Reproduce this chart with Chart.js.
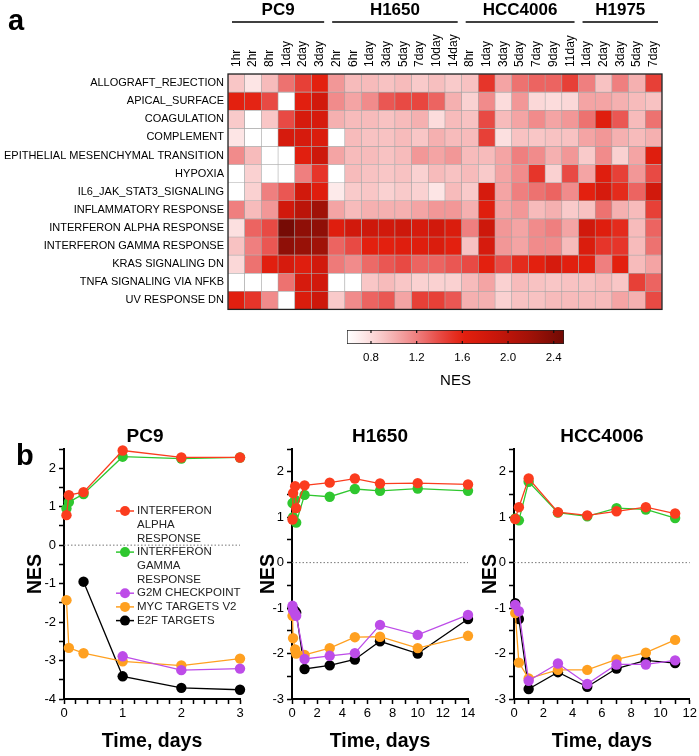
<!DOCTYPE html>
<html>
<head>
<meta charset="utf-8">
<script src="https://cdn.jsdelivr.net/npm/chart.js@4.4.1/dist/chart.umd.min.js"></script>
<style>
  body { margin: 0; background: #fff; width: 699px; height: 756px; position: relative; overflow: hidden;
         font-family: "Liberation Sans", Arial, sans-serif; }
  .box { position: absolute; }
  .tag { position: absolute; font-weight: bold; font-size: 29px; line-height: 1; color: #000; }
</style>
</head>
<body>
<div class="box" style="left:0;top:0;width:699px;height:320px"><canvas id="heat"></canvas></div>
<div class="box" style="left:300px;top:320px;width:320px;height:75px"><canvas id="scale"></canvas></div>
<div class="box" style="left:0;top:420px;width:250px;height:336px"><canvas id="pc9"></canvas></div>
<div class="box" style="left:232px;top:420px;width:250px;height:336px"><canvas id="h1650"></canvas></div>
<div class="box" style="left:466px;top:420px;width:233px;height:336px"><canvas id="hcc4006"></canvas></div>
<div class="tag" style="left:8px;top:6px">a</div>
<div class="tag" style="left:16px;top:441px">b</div>
<script>
// ---- panel a : heatmap ----
const rowLabels = ['ALLOGRAFT_REJECTION', 'APICAL_SURFACE', 'COAGULATION', 'COMPLEMENT',
  'EPITHELIAL MESENCHYMAL TRANSITION', 'HYPOXIA', 'IL6_JAK_STAT3_SIGNALING', 'INFLAMMATORY RESPONSE',
  'INTERFERON ALPHA RESPONSE', 'INTERFERON GAMMA RESPONSE', 'KRAS SIGNALING DN',
  'TNFA SIGNALING VIA NFKB', 'UV RESPONSE DN'];
const colLabels = ['1hr', '2hr', '8hr', '1day', '2day', '3day',
  '2hr', '6hr', '1day', '3day', '5day', '7day', '10day', '14day',
  '8hr', '1day', '3day', '5day', '7day', '9day', '11day',
  '1day', '2day', '3day', '5day', '7day'];
const groupNames = ['PC9', 'H1650', 'HCC4006', 'H1975'];
const groupSizes = [6, 8, 7, 5];

// NES per row, columns in colLabels order
const nes = [
  [0.90,0.75,0.95,1.25,1.45,1.60, 1.10,0.95,0.95,0.92,0.95,0.88,0.93,0.88, 0.92,1.50,1.05,1.25,1.30,1.30,1.45, 1.20,0.92,1.20,1.00,1.45],
  [1.60,1.58,1.40,0.60,1.62,1.80, 1.15,1.05,1.15,1.35,1.40,1.42,1.30,1.00, 0.85,1.15,0.80,1.10,0.82,0.80,0.82, 1.05,1.05,1.00,0.95,0.92],
  [0.88,0.60,0.90,1.40,1.75,1.75, 1.00,0.95,0.95,0.92,0.95,1.00,0.80,0.95, 0.92,1.40,0.95,1.05,1.15,1.05,1.10, 1.25,1.65,1.35,0.95,1.25],
  [0.75,0.60,0.60,1.75,1.75,1.70, 0.60,0.95,0.92,0.92,0.95,0.90,1.00,0.95, 0.95,1.45,0.78,0.92,0.90,0.92,0.92, 1.05,1.10,1.00,0.95,1.00],
  [1.15,0.95,0.60,0.60,1.62,1.85, 1.05,0.95,0.95,0.92,0.95,1.10,1.05,1.10, 0.95,0.95,1.05,1.20,1.15,1.00,1.10, 0.88,1.15,0.85,1.05,1.65],
  [0.60,0.85,0.60,0.60,1.20,1.50, 0.60,0.95,0.92,0.90,0.92,0.85,0.95,0.92, 0.95,0.88,1.05,1.15,1.50,0.85,1.40, 1.05,1.65,1.45,1.10,1.40],
  [0.60,0.85,1.20,1.35,1.80,1.65, 0.72,0.88,0.90,0.85,0.88,0.85,0.75,0.95, 0.88,1.75,1.05,1.20,1.25,1.30,1.15, 1.60,1.75,1.55,1.30,1.80],
  [1.20,0.95,1.10,1.80,2.00,2.20, 1.05,0.95,1.00,1.00,1.00,1.05,1.10,1.10, 1.00,1.65,1.05,1.10,0.95,1.00,0.88, 0.92,1.25,1.00,0.95,1.45],
  [0.78,1.30,1.40,2.45,2.30,2.30, 1.65,1.80,1.85,1.80,1.85,1.75,1.80,1.70, 1.20,1.85,1.10,1.05,1.15,1.20,1.05, 1.80,1.65,1.55,0.95,1.30],
  [0.92,1.20,1.35,2.30,2.25,2.20, 1.30,1.40,1.60,1.60,1.65,1.65,1.70,1.60, 0.92,1.75,1.10,1.05,1.15,1.15,0.95, 1.70,1.50,1.50,0.95,1.25],
  [0.82,1.25,1.62,1.75,1.65,1.80, 1.22,1.15,1.28,1.35,1.40,1.30,1.30,1.35, 1.40,1.60,1.40,1.55,1.60,1.75,1.62, 1.60,1.20,1.60,0.95,1.05],
  [0.60,0.60,0.60,1.25,1.75,1.80, 0.60,0.60,0.90,0.95,0.90,0.85,0.85,0.85, 0.95,1.05,0.85,0.95,0.92,0.90,0.92, 0.92,0.95,0.90,1.45,1.30],
  [1.62,1.50,1.15,0.60,1.70,1.85, 0.88,1.15,1.30,1.35,1.05,1.45,1.45,1.35, 1.00,1.00,0.85,0.92,0.92,0.95,0.95, 0.95,0.95,1.05,1.00,1.40]
];

const colorStops = [0.6, 0.8, 1.0, 1.2, 1.4, 1.6, 1.9, 2.2, 2.5];
const stopColors = ['#ffffff', '#fcdcdc', '#f5b0b0', '#ef7f7f', '#e84a44', '#e3200f', '#c8160a', '#a01208', '#6e0a04'];
const scaleRange = [0.59, 2.49];
const scaleTicks = [0.8, 1.2, 1.6, 2.0, 2.4];

// ---- panel b : time courses ----
const seriesNames = ['INTERFERON ALPHA RESPONSE', 'INTERFERON GAMMA RESPONSE', 'G2M CHECKPOINT', 'MYC TARGETS V2', 'E2F TARGETS'];
const legendLines = [['INTERFERON', 'ALPHA', 'RESPONSE'], ['INTERFERON', 'GAMMA', 'RESPONSE'], ['G2M CHECKPOINT'], ['MYC TARGETS V2'], ['E2F TARGETS']];
const seriesColors = ['#fb3c1e', '#2fc72f', '#bd4ce8', '#ffa020', '#000000'];

const pc9Days   = [0.042, 0.083, 0.333, 1, 2, 3];
const pc9Alpha  = [0.78, 1.30, 1.38, 2.46, 2.28, 2.28];
const pc9Gamma  = [0.95, 1.12, 1.33, 2.30, 2.25, 2.28];
const pc9G2M    = [null, null, null, -2.89, -3.25, -3.21];
const pc9Myc    = [-1.43, -2.67, -2.81, -3.02, -3.13, -2.95];
const pc9E2F    = [null, null, -0.95, -3.41, -3.71, -3.76];

const h1650Days  = [0.042, 0.083, 0.25, 0.333, 1, 3, 5, 7, 10, 14];
const h1650Alpha = [0.95, 1.53, 1.68, 1.20, 1.70, 1.76, 1.85, 1.74, 1.75, 1.72];
const h1650Gamma = [1.31, 1.00, 1.38, 0.88, 1.49, 1.45, 1.62, 1.58, 1.63, 1.58];
const h1650G2M   = [-0.95, -1.05, -1.13, -1.17, -2.12, -2.05, -1.99, -1.37, -1.59, -1.15];
const h1650Myc   = [-1.17, -1.66, -1.91, -2.00, -2.03, -1.88, -1.64, -1.63, -1.88, -1.61];
const h1650E2F   = [-1.00, -1.02, -1.07, -1.10, -2.34, -2.26, -2.13, -1.73, -2.00, -1.24];

const hccDays  = [0.083, 0.333, 1, 3, 5, 7, 9, 11];
const hccAlpha = [0.96, 1.22, 1.85, 1.11, 1.04, 1.13, 1.22, 1.08];
const hccGamma = [0.97, 0.93, 1.78, 1.10, 1.02, 1.20, 1.17, 0.98];
const hccG2M   = [-0.93, -1.07, -2.60, -2.22, -2.67, -2.24, -2.24, -2.15];
const hccMyc   = [-1.11, -2.20, -2.55, -2.36, -2.36, -2.13, -1.98, -1.70];
const hccE2F   = [-0.89, -1.24, -2.78, -2.41, -2.73, -2.33, -2.15, -2.21];

const pc9XMajor = [0, 1, 2, 3];
const h1650XMajor = [0, 2, 4, 6, 8, 10, 12, 14];
const hccXMajor = [0, 2, 4, 6, 8, 10, 12];

Chart.defaults.font.family = '"Liberation Sans", Arial, sans-serif';
Chart.defaults.color = '#000';

function hexRgb(h) {
  return [1, 3, 5].map(i => parseInt(h.slice(i, i + 2), 16));
}
function nesColor(v) {
  if (v <= colorStops[0]) return stopColors[0];
  for (let i = 1; i < colorStops.length; i++) {
    if (v <= colorStops[i]) {
      const t = (v - colorStops[i - 1]) / (colorStops[i] - colorStops[i - 1]);
      const a = hexRgb(stopColors[i - 1]), b = hexRgb(stopColors[i]);
      const c = a.map((x, k) => Math.round(x + (b[k] - x) * t));
      return `rgb(${c[0]},${c[1]},${c[2]})`;
    }
  }
  return stopColors[stopColors.length - 1];
}

// heatmap frame, column labels, group headers
const heatFrame = {
  id: 'heatFrame',
  afterDatasetsDraw(chart) {
    const { ctx, chartArea: a } = chart;
    ctx.save();
    ctx.strokeStyle = '#222';
    ctx.lineWidth = 1.3;
    ctx.strokeRect(a.left, a.top, a.right - a.left, a.bottom - a.top);
    ctx.restore();
  }
};
const colHeaders = {
  id: 'colHeaders',
  afterDraw(chart) {
    const { ctx, chartArea: a, scales: { x } } = chart;
    ctx.save();
    ctx.font = '12px "Liberation Sans", Arial';
    ctx.fillStyle = '#000';
    ctx.textAlign = 'left';
    ctx.textBaseline = 'middle';
    colLabels.forEach((t, i) => {
      ctx.save();
      ctx.translate(x.getPixelForValue(i), a.top - 7);
      ctx.rotate(-Math.PI / 2);
      ctx.fillText(t, 0, 0);
      ctx.restore();
    });
    ctx.restore();
  }
};
const groupHeaders = {
  id: 'groupHeaders',
  afterDraw(chart) {
    const x = chart.scales.x, ctx = chart.ctx;
    const half = (x.getPixelForValue(1) - x.getPixelForValue(0)) / 2;
    let start = 0;
    ctx.save();
    groupNames.forEach((name, g) => {
      const end = start + groupSizes[g] - 1;
      const x1 = x.getPixelForValue(start) - half + 4;
      const x2 = x.getPixelForValue(end) + half - 4;
      ctx.strokeStyle = '#000';
      ctx.lineWidth = 1.6;
      ctx.beginPath(); ctx.moveTo(x1, 22); ctx.lineTo(x2, 22); ctx.stroke();
      ctx.fillStyle = '#000';
      ctx.font = 'bold 17px "Liberation Sans", Arial';
      ctx.textAlign = 'center';
      ctx.textBaseline = 'middle';
      ctx.fillText(name, (x1 + x2) / 2, 10);
      start = end + 1;
    });
    ctx.restore();
  }
};

new Chart(document.getElementById('heat'), {
  type: 'bar',
  data: {
    labels: colLabels,
    datasets: nes.map((row, i) => ({
      data: row.map(() => [i, i + 1]),
      backgroundColor: row.map(nesColor),
      borderColor: '#a6a6a6',
      borderWidth: 0.6,
      borderSkipped: false,
      grouped: false,
      barPercentage: 1,
      categoryPercentage: 1
    }))
  },
  options: {
    responsive: true,
    maintainAspectRatio: false,
    animation: false,
    layout: { padding: { left: 0, right: 37, top: 0, bottom: 8 } },
    plugins: { legend: { display: false }, tooltip: { enabled: false } },
    scales: {
      x: {
        position: 'top',
        grid: { display: false, drawTicks: false },
        border: { display: false },
        ticks: { display: false },
        afterFit: s => { s.height = 74; }
      },
      y: {
        type: 'linear',
        min: 0,
        max: rowLabels.length,
        reverse: true,
        afterBuildTicks: s => { s.ticks = rowLabels.map((_, i) => ({ value: i + 0.5 })); },
        grid: { display: false, drawTicks: false },
        border: { display: false },
        ticks: { autoSkip: false, padding: 4, font: { size: 11 }, color: '#000', callback: (v, i) => rowLabels[i] },
        afterFit: s => { s.width = 228; }
      }
    }
  },
  plugins: [heatFrame, colHeaders, groupHeaders]
});

// colour scale
const scaleMarks = {
  id: 'scaleMarks',
  afterDatasetsDraw(chart) {
    const { ctx, chartArea: a, scales: { x } } = chart;
    ctx.save();
    ctx.strokeStyle = '#111';
    ctx.lineWidth = 1.2;
    scaleTicks.forEach(v => {
      const px = x.getPixelForValue(v);
      ctx.beginPath();
      ctx.moveTo(px, a.top); ctx.lineTo(px, a.top + 3);
      ctx.moveTo(px, a.bottom); ctx.lineTo(px, a.bottom - 3);
      ctx.stroke();
    });
    ctx.restore();
  }
};

new Chart(document.getElementById('scale'), {
  type: 'bar',
  data: {
    labels: [''],
    datasets: [{
      data: [scaleRange],
      backgroundColor: c => {
        const chart = c.chart, a = chart.chartArea;
        if (!a) return '#e3200f';
        const g = chart.ctx.createLinearGradient(a.left, 0, a.right, 0);
        for (let k = 0; k <= 24; k++) {
          g.addColorStop(k / 24, nesColor(scaleRange[0] + (scaleRange[1] - scaleRange[0]) * k / 24));
        }
        return g;
      },
      borderColor: '#222',
      borderWidth: 1,
      borderSkipped: false,
      barPercentage: 1,
      categoryPercentage: 1
    }]
  },
  options: {
    indexAxis: 'y',
    responsive: true,
    maintainAspectRatio: false,
    animation: false,
    layout: { padding: { left: 47, right: 56, top: 10, bottom: 0 } },
    plugins: { legend: { display: false }, tooltip: { enabled: false } },
    scales: {
      x: {
        type: 'linear',
        min: scaleRange[0],
        max: scaleRange[1],
        afterBuildTicks: s => { s.ticks = scaleTicks.map(v => ({ value: v })); },
        grid: { display: false, drawTicks: false },
        border: { display: false },
        ticks: { padding: 7, font: { size: 11.5 }, color: '#000', callback: v => v.toFixed(1) },
        title: { display: true, text: 'NES', font: { size: 15 }, color: '#000', padding: { top: 0, bottom: 5 } },
        afterFit: s => { s.height = 51; }
      },
      y: { display: false }
    }
  },
  plugins: [scaleMarks]
});

// time-course panels
const zeroLine = {
  id: 'zeroLine',
  beforeDatasetsDraw(chart) {
    const { ctx, chartArea: a, scales: { y } } = chart;
    const py = y.getPixelForValue(0);
    ctx.save();
    ctx.setLineDash([1.5, 2]);
    ctx.strokeStyle = '#777';
    ctx.lineWidth = 1;
    ctx.beginPath(); ctx.moveTo(a.left, py); ctx.lineTo(a.right, py); ctx.stroke();
    ctx.restore();
  }
};
const panelTitle = {
  id: 'panelTitle',
  afterDraw(chart, args, opts) {
    const { ctx, chartArea: a } = chart;
    ctx.save();
    ctx.font = 'bold 19px "Liberation Sans", Arial';
    ctx.fillStyle = '#000';
    ctx.textAlign = 'center';
    ctx.textBaseline = 'middle';
    ctx.fillText(opts.text, (a.left + a.right) / 2 + (opts.dx || 0), a.top - 12);
    ctx.restore();
  }
};
const pc9Legend = {
  id: 'pc9Legend',
  afterDraw(chart) {
    const { ctx, chartArea: a } = chart;
    const mx = a.left + 61;
    let y = a.top + 62;
    ctx.save();
    ctx.font = '11.5px "Liberation Sans", Arial';
    ctx.textBaseline = 'middle';
    ctx.textAlign = 'left';
    legendLines.forEach((lines, k) => {
      ctx.strokeStyle = seriesColors[k];
      ctx.fillStyle = seriesColors[k];
      ctx.lineWidth = 1.5;
      ctx.beginPath(); ctx.moveTo(mx - 9, y); ctx.lineTo(mx + 9, y); ctx.stroke();
      ctx.beginPath(); ctx.arc(mx, y, 5, 0, Math.PI * 2); ctx.fill();
      ctx.fillStyle = '#222';
      lines.forEach((t, i) => ctx.fillText(t, mx + 12, y + i * 13.7));
      y += lines.length * 13.7;
    });
    ctx.restore();
  }
};

function timeCourse(id, title, days, series, cfg) {
  const xTicks = [];
  const n = Math.round(cfg.xMax / cfg.xMinor);
  for (let i = 0; i <= n; i++) xTicks.push(+(i * cfg.xMinor).toFixed(3));
  const yTicks = [];
  const m = Math.round((2.5 - cfg.yMin) / 0.5);
  for (let i = 0; i <= m; i++) yTicks.push(cfg.yMin + i * 0.5);

  const plugins = [zeroLine, panelTitle];
  if (cfg.legend) plugins.push(pc9Legend);

  new Chart(document.getElementById(id), {
    type: 'line',
    data: {
      datasets: series.map((vals, k) => ({
        label: seriesNames[k],
        data: days.map((t, j) => ({ x: t, y: vals[j] })).filter(p => p.y !== null),
        borderColor: seriesColors[k],
        backgroundColor: seriesColors[k],
        pointBackgroundColor: seriesColors[k],
        borderWidth: 1.3,
        pointRadius: 5.2,
        pointHoverRadius: 5.2,
        pointBorderWidth: 0,
        clip: false
      }))
    },
    options: {
      responsive: true,
      maintainAspectRatio: false,
      animation: false,
      layout: { padding: { left: cfg.padLeft, right: cfg.padRight, top: 29, bottom: 3 } },
      plugins: { legend: { display: false }, tooltip: { enabled: false }, panelTitle: { text: title, dx: cfg.titleDx || 0 } },
      scales: {
        x: {
          type: 'linear',
          min: 0,
          max: cfg.xMax,
          afterBuildTicks: s => { s.ticks = xTicks.map(v => ({ value: v })); },
          ticks: { autoSkip: false, maxRotation: 0, padding: 2, font: { size: 13 }, color: '#000',
                   callback: v => cfg.xMajor.includes(v) ? String(v) : '' },
          grid: { drawOnChartArea: false, tickLength: 5, tickWidth: 1.5, tickColor: '#000' },
          border: { color: '#000', width: 2 },
          title: { display: true, text: 'Time, days', font: { size: 19.5, weight: 'bold' }, color: '#000', padding: 0 },
          afterFit: s => { s.height = 54; }
        },
        y: {
          type: 'linear',
          min: cfg.yMin,
          max: 2.5,
          afterBuildTicks: s => { s.ticks = yTicks.map(v => ({ value: v })); },
          ticks: { autoSkip: false, padding: 3, font: { size: 13 }, color: '#000',
                   callback: v => Number.isInteger(v) ? String(v) : '' },
          grid: { drawOnChartArea: false, tickLength: 5, tickWidth: 1.5, tickColor: '#000' },
          border: { color: '#000', width: 2 },
          title: { display: true, text: 'NES', font: { size: 19.5, weight: 'bold' }, color: '#000', padding: { top: 4, bottom: 2 } },
          afterFit: s => { s.width = cfg.yWidth; }
        }
      }
    },
    plugins: plugins
  });
}

timeCourse('pc9', 'PC9', pc9Days, [pc9Alpha, pc9Gamma, pc9G2M, pc9Myc, pc9E2F],
  { xMax: 3, xMinor: 0.2, xMajor: pc9XMajor, yMin: -4, padLeft: 20, yWidth: 44, padRight: 10, titleDx: -7, legend: true });
timeCourse('h1650', 'H1650', h1650Days, [h1650Alpha, h1650Gamma, h1650G2M, h1650Myc, h1650E2F],
  { xMax: 14, xMinor: 1, xMajor: h1650XMajor, yMin: -3, padLeft: 21, yWidth: 39, padRight: 14 });
timeCourse('hcc4006', 'HCC4006', hccDays, [hccAlpha, hccGamma, hccG2M, hccMyc, hccE2F],
  { xMax: 12, xMinor: 1, xMajor: hccXMajor, yMin: -3, padLeft: 9, yWidth: 39, padRight: 9 });
</script>
</body>
</html>
